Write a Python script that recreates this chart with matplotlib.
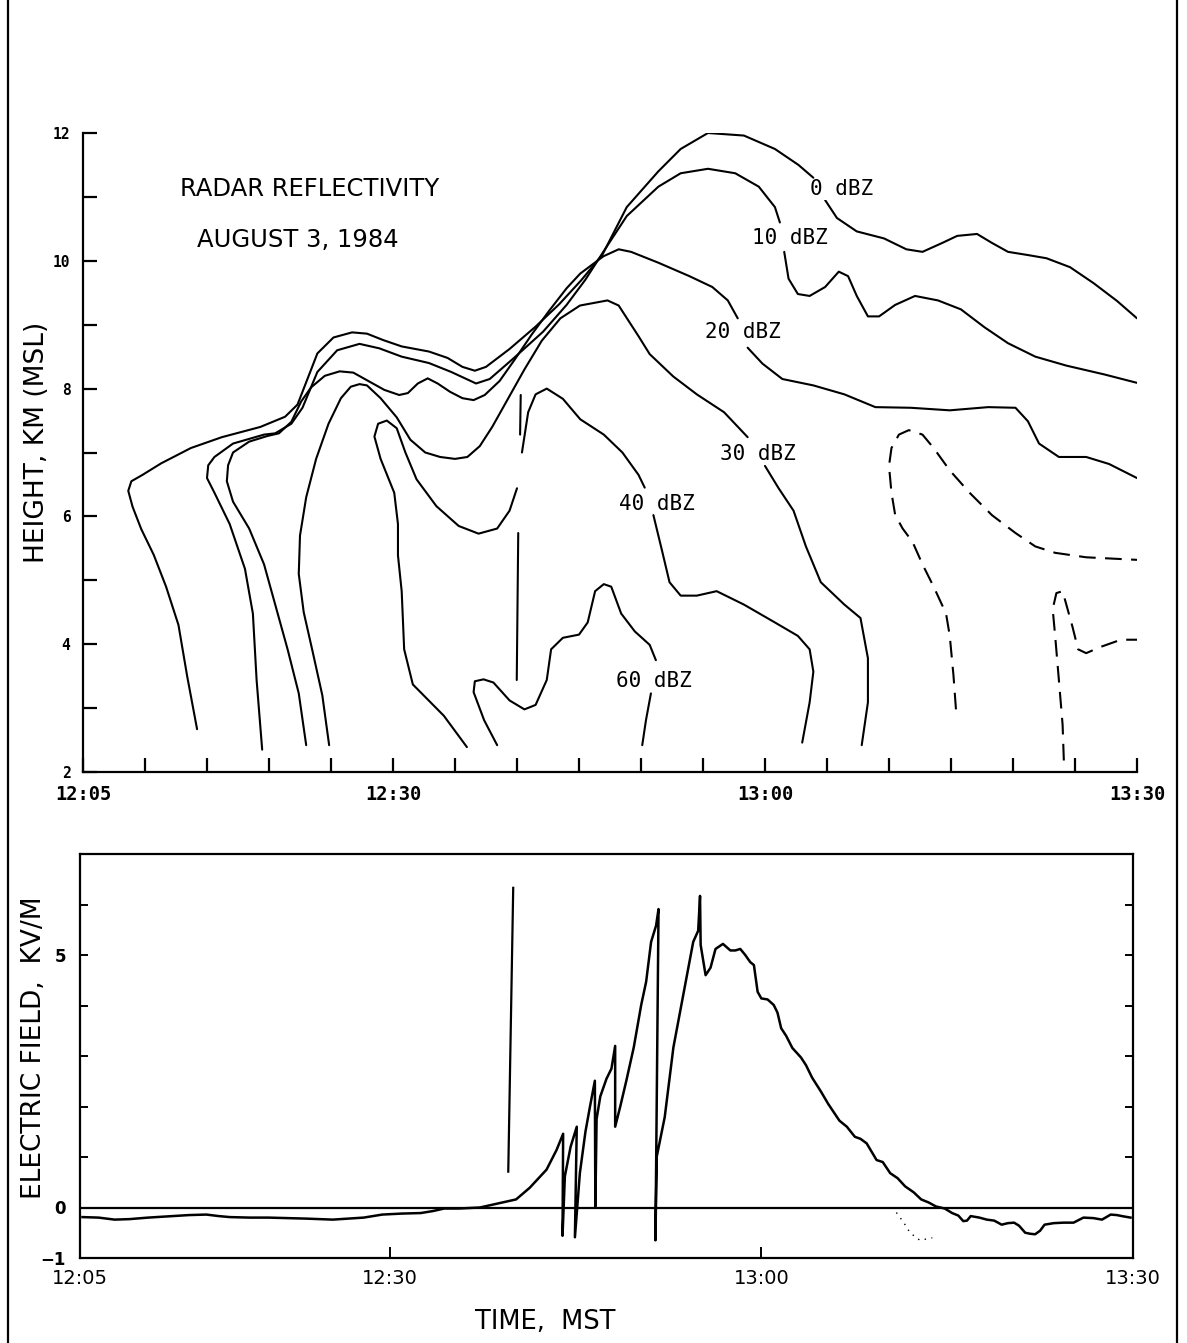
import numpy as np
import matplotlib
matplotlib.use("Agg")
import matplotlib.pyplot as plt
from matplotlib.lines import Line2D

nan = np.nan
W, H = 1187, 1343

# ---------------- data (time in minutes after 12:00, height km MSL) -------------
tick_minutes = [5, 30, 60, 90]
tick_labels = ["12:05", "12:30", "13:00", "13:30"]

# 0 dBZ contour
t_0 = [14.2, 13.4, 12.7, 11.7, 10.7, 9.7, 9.0, 8.65, 8.9, 9.8, 11.3, 13.7, 16.2, 19.3, 21.3, 22.3,
       23.0, 23.9, 25.2, 26.7, 27.9, 29.2, 30.7, 32.9, 34.4, 35.6, 36.6, 37.5, 39.4, 41.5, 43.4,
       45.2, 46.9, 48.85, 51.4, 53.2, 55.4, 58.3, 60.8, 62.7, 63.9, nan, 64.85, 65.8, 67.4, 69.6,
       71.4, 72.7, 74.3, 75.5, 77.1, 78.3, 79.6, 81.2, 82.7, 84.6, 86.5, 88.4, 90.0]
h_0 = [2.67, 3.5, 4.3, 4.9, 5.4, 5.8, 6.15, 6.4, 6.55, 6.65, 6.83, 7.07, 7.24, 7.4, 7.56, 7.75,
       8.1, 8.55, 8.8, 8.88, 8.86, 8.76, 8.66, 8.58, 8.48, 8.34, 8.28, 8.34, 8.62, 8.97, 9.32,
       9.7, 10.1, 10.84, 11.4, 11.75, 12.0, 11.96, 11.75, 11.5, 11.3, nan, 10.95, 10.67, 10.46, 10.35,
       10.18, 10.14, 10.28, 10.39, 10.42, 10.28, 10.14, 10.09, 10.04, 9.9, 9.65, 9.37, 9.1]

# 10 dBZ contour
t_10 = [19.45, 19.0, 18.7, 18.06, 16.83, 15.6, 15.0, 15.1, 15.6, 17.1, 19.6, 20.5, 21.8, 22.7, 23.9,
        25.5, 27.3, 28.9, 30.7, 32.9, 34.7, 36.7, 37.8, 39.7, 42.1, 44.0, 45.5, 46.96, 48.85, 51.4,
        53.2, 55.4, 57.6, 59.5, 60.8, 61.2, nan, 61.55, 61.9, 62.65, 63.6, 64.85, 65.95, 66.7, 67.4,
        68.3, 69.2, 70.5, 72.1, 73.95, 75.8, 77.7, 79.6, 81.8, 84.3, 87.4, 90.0]
h_10 = [2.35, 3.44, 4.48, 5.18, 5.88, 6.37, 6.6, 6.8, 6.93, 7.14, 7.28, 7.3, 7.45, 7.7, 8.26,
        8.6, 8.7, 8.63, 8.5, 8.4, 8.26, 8.08, 8.15, 8.47, 8.89, 9.31, 9.7, 10.14, 10.7, 11.16,
        11.37, 11.44, 11.37, 11.16, 10.84, 10.6, nan, 10.14, 9.72, 9.48, 9.45, 9.59, 9.83, 9.76, 9.45,
        9.13, 9.13, 9.31, 9.45, 9.38, 9.24, 8.96, 8.71, 8.5, 8.36, 8.22, 8.09]

# 20 dBZ contour
t_20 = [23.0, 22.4, 21.5, 20.5, 19.6, 18.4, 17.1, 16.6, 16.7, 17.1, 18.4, 19.9, 20.8, 21.8, 22.6,
        23.4, 24.5, 25.7, 26.8, 28.0, 29.3, 30.5, 31.2, 32.0, 32.8, 33.6, 34.6, 35.6, 36.5, 37.4,
        38.6, 39.8, 41.2, 42.6, 44.0, 45.1, 46.96, 48.2, 49.2, 51.4, 53.9, 55.75, 57.0, 57.8, nan,
        58.6, 59.8, 61.4, 63.9, 66.4, 68.9, 71.75, 74.9, 78.0, 80.2, 81.2, 82.1, 83.7, 85.9, 87.75, 90.0]
h_20 = [2.42, 3.23, 3.92, 4.62, 5.25, 5.81, 6.23, 6.55, 6.8, 7.0, 7.17, 7.26, 7.3, 7.48, 7.8,
        8.02, 8.2, 8.27, 8.25, 8.12, 7.98, 7.9, 7.93, 8.08, 8.16, 8.08, 7.95, 7.85, 7.82, 7.9,
        8.12, 8.45, 8.85, 9.22, 9.57, 9.8, 10.07, 10.18, 10.14, 9.97, 9.76, 9.59, 9.38, 9.1, nan,
        8.64, 8.39, 8.15, 8.05, 7.91, 7.71, 7.7, 7.66, 7.71, 7.7, 7.49, 7.14, 6.93, 6.93, 6.82, 6.6]

# 30 dBZ contour
t_30 = [24.85, 24.3, 23.5, 22.8, 22.4, 22.5, 23.0, 23.8, 24.8, 25.8, 26.6, 27.3, 27.9, 29.0, 30.3, 31.4,
        32.6, 33.8, 35.0, 36.0, 37.0, 38.0, 39.3, 40.6, 42.0, 43.5, 45.08, 47.3, 48.2, 49.8, 50.7,
        52.6, 54.5, 56.7, 58.6, nan, 60.0, 61.1, 62.3, 63.3, 64.5, 66.4, 67.7, 68.3, 68.3, 67.8]
h_30 = [2.42, 3.2, 3.9, 4.5, 5.1, 5.7, 6.3, 6.9, 7.45, 7.85, 8.03, 8.07, 8.05, 7.85, 7.55, 7.2,
        7.0, 6.93, 6.9, 6.93, 7.1, 7.4, 7.85, 8.3, 8.75, 9.1, 9.3, 9.38, 9.3, 8.82, 8.54,
        8.19, 7.91, 7.63, 7.24, nan, 6.79, 6.44, 6.09, 5.53, 4.97, 4.62, 4.41, 3.78, 3.09, 2.42]

# 40 dBZ contour
t_40 = [35.96, 34.1, 31.6, 30.9, 30.7, 30.4, 30.4, 30.1, 29.0, 28.5, 28.8, 29.5, 30.3, 31.0, 31.9,
        33.5, 35.3, 36.9, 38.4, 39.4, 40.0, nan, 40.4, 40.9, 41.5, 42.4, 43.7, 45.1, 47.0, 48.5,
        49.8, 50.3, nan, 51.0, 51.7, 52.3, 53.2, 54.5, 56.1, 58.3, 60.8, 62.65, 63.6, 63.9, 63.6, 63.0]
h_40 = [2.39, 2.88, 3.37, 3.92, 4.83, 5.39, 5.88, 6.37, 6.9, 7.25, 7.45, 7.5, 7.38, 7.0, 6.58,
        6.16, 5.85, 5.73, 5.81, 6.09, 6.44, nan, 7.0, 7.63, 7.91, 8.0, 7.84, 7.52, 7.28, 7.0,
        6.65, 6.45, nan, 6.02, 5.46, 4.97, 4.76, 4.76, 4.83, 4.62, 4.34, 4.13, 3.92, 3.57, 3.09, 2.46]

# 60 dBZ contour
t_60 = [38.4, 37.35, 36.5, 36.6, 37.3, 38.1, 39.4, 40.6, 41.5, 42.4, 42.75, 43.7, 45.0, 45.7, 46.3,
        47.0, 47.6, 48.4, 49.5, 50.7, 51.2, nan, 50.8, 50.4, 50.1]
h_60 = [2.42, 2.81, 3.25, 3.42, 3.45, 3.4, 3.12, 2.98, 3.05, 3.44, 3.92, 4.1, 4.15, 4.34, 4.83,
        4.94, 4.9, 4.48, 4.2, 3.99, 3.75, nan, 3.23, 2.81, 2.42]

# unlabeled dashed contours
t_dash_a = [75.4, 75.2, 74.9, 74.6, 73.6, 72.7, 71.9, 71.1, 70.5, 70.2, 70.0, 70.2, 70.8, 71.6, 72.7,
            73.6, 74.9, 76.5, 78.3, 80.2, 81.8, 83.4, 85.9, 90.0]
h_dash_a = [2.98, 3.51, 4.13, 4.48, 4.9, 5.25, 5.6, 5.81, 6.02, 6.37, 6.79, 7.07, 7.28, 7.35, 7.28,
            7.07, 6.72, 6.37, 6.02, 5.74, 5.53, 5.43, 5.36, 5.32]
t_dash_b = [84.1, 84.0, 83.7, 83.4, 83.2, 83.5, 84.0, 84.3, 84.8, 85.25, 85.9, 87.1, 88.7, 90.0]
h_dash_b = [2.18, 2.74, 3.44, 4.13, 4.55, 4.8, 4.83, 4.62, 4.27, 3.92, 3.86, 3.96, 4.07, 4.07]

# vertical marker segments (radar panel)
t_mark = [40.3, 40.25, nan, 40.1, 39.98]
h_mark = [7.9, 7.28, nan, 5.74, 3.44]

# contour labels
lab_text = ["0 dBZ", "10 dBZ", "20 dBZ", "30 dBZ", "40 dBZ", "60 dBZ"]
lab_t = [66.2, 62.0, 58.2, 59.4, 51.3, 51.0]
lab_h = [11.12, 10.35, 8.88, 6.98, 6.2, 3.43]

# electric field trace (kV/m)
t_e = [5.2, 6.5, 7.8, 9.0, 10.5, 12.4, 13.8, 15.2, 16.2, 17.1, 18.7, 20.2, 21.7, 23.25, 25.4, 26.6,
       27.9, 29.4, 31.0, 32.5, 33.5, 34.4, 35.6, 37.28, 38.9, 40.2, 41.3, 42.66, 43.47, 44.0, 43.95,
       44.14, 44.6, 45.1, 44.95, 45.35, 45.8, 46.16, 46.56, 46.6, 46.7, 47.0, 47.5, 47.9, 48.2, 48.2,
       48.6, 49.1, 49.7, 50.3, 50.7, 51.1, 51.5, 51.7, 51.45, 51.55, 52.2, 52.9, 53.7, 54.5, 54.9,
       55.05, 55.1, 55.5, 55.9, 56.3, 56.9, 57.5, 57.9, 58.3, 58.7, 59.1, 59.4, 59.7, 60.0, 60.5,
       61.0, 61.3, 61.6, 62.0, 62.5, 63.2, 63.6, 64.1, 64.8, 65.4, 66.3, 66.9, 67.55, 68.0, 68.5,
       69.3, 69.8, 70.4, 71.0, 71.6, 72.3, 72.9, 73.5, 74.1, 74.8, 75.4, 75.9, 76.3, 76.6, 76.9,
       77.6, 78.2, 78.8, 79.4, 79.9, 80.4, 80.8, 81.3, 81.7, 82.1, 82.5, 82.86, 83.6, 84.4, 85.2,
       86.0, 86.8, 87.5, 88.2, 88.7, 89.1, 89.8]
e_val = [-0.19, -0.2, -0.24, -0.23, -0.2, -0.17, -0.15, -0.14, -0.17, -0.19, -0.2, -0.2, -0.21, -0.22,
         -0.24, -0.22, -0.2, -0.14, -0.12, -0.11, -0.07, -0.02, -0.02, 0.0, 0.09, 0.16, 0.39, 0.75,
         1.14, 1.46, -0.56, 0.62, 1.2, 1.6, -0.59, 0.68, 1.5, 1.99, 2.51, 0.02, 1.75, 2.2, 2.55, 2.75,
         3.2, 1.6, 1.99, 2.51, 3.17, 4.01, 4.47, 5.26, 5.58, 5.91, -0.65, 1.0, 1.79, 3.17, 4.21, 5.26,
         5.48, 6.17, 5.2, 4.6, 4.75, 5.12, 5.22, 5.09, 5.09, 5.12, 5.0, 4.86, 4.8, 4.27, 4.14, 4.12,
         4.01, 3.86, 3.55, 3.4, 3.16, 2.97, 2.82, 2.57, 2.3, 2.05, 1.72, 1.6, 1.4, 1.36, 1.27,
         0.94, 0.9, 0.68, 0.58, 0.42, 0.3, 0.16, 0.1, 0.02, -0.02, -0.11, -0.16, -0.27, -0.26, -0.17,
         -0.2, -0.24, -0.26, -0.34, -0.31, -0.3, -0.36, -0.5, -0.52, -0.53, -0.46, -0.34, -0.31, -0.3, -0.3,
         -0.2, -0.21, -0.24, -0.14, -0.15, -0.17, -0.2]

# dotted branch below zero near 13:10
t_dot = [70.9, 71.5, 72.0, 72.8, 73.8]
e_dot = [-0.1, -0.3, -0.5, -0.65, -0.6]

# vertical marker in field panel
t_emark = [39.97, 39.57]
e_emark = [6.33, 0.71]

# ---------------- figure -------------------------------------------------------
fig = plt.figure(figsize=(W / 100, H / 100), dpi=100)

def fx(x):
    return x / W

def fy(y):
    return 1 - y / H

mono = "DejaVu Sans Mono"
sans = "DejaVu Sans"
LW = 1.5

# ---- top panel: radar reflectivity
ax1 = fig.add_axes([fx(83), fy(772), 1054 / W, 639 / H])
ax1.set_xlim(5, 90)
ax1.set_ylim(2, 12)
for s in ["top", "right"]:
    ax1.spines[s].set_visible(False)
for s in ["left", "bottom"]:
    ax1.spines[s].set_linewidth(1.6)

for t, h in [(t_0, h_0), (t_10, h_10), (t_20, h_20), (t_30, h_30), (t_40, h_40), (t_60, h_60),
             (t_mark, h_mark)]:
    ax1.plot(t, h, color="black", lw=LW, solid_capstyle="round")
for t, h in [(t_dash_a, h_dash_a), (t_dash_b, h_dash_b)]:
    ax1.plot(t, h, color="black", lw=LW, dashes=(8, 4.5))

for txt, t, h in zip(lab_text, lab_t, lab_h):
    ax1.text(t, h, txt, family=mono, fontsize=15, ha="center", va="center",
             bbox=dict(facecolor="white", edgecolor="none", pad=0.5))

ax1.set_xticks(tick_minutes)
ax1.set_xticklabels(tick_labels, family=mono, fontsize=13.5, fontweight="bold")
ax1.set_xticks(np.arange(5, 91, 5), minor=True)
ax1.set_yticks(np.arange(2, 13, 2))
ax1.set_yticklabels([str(v) for v in range(2, 13, 2)], family=mono, fontsize=10.5, fontweight="bold")
ax1.set_yticks(np.arange(3, 12, 2), minor=True)
ax1.tick_params(axis="x", which="both", direction="in", length=10, width=1.6, pad=9)
ax1.tick_params(axis="y", which="both", direction="in", length=10, width=1.6, pad=9)

fig.text(fx(37), fy(442), "HEIGHT, KM (MSL)", family=sans, fontsize=19, rotation=90,
         ha="center", va="center")
fig.text(fx(180), fy(189), "RADAR REFLECTIVITY", family=sans, fontsize=17.5, ha="left", va="center")
fig.text(fx(197), fy(240), "AUGUST 3, 1984", family=sans, fontsize=17.5, ha="left", va="center")

# ---- bottom panel: electric field
ax2 = fig.add_axes([fx(80), fy(1258), 1053 / W, 404 / H])
ax2.set_xlim(5, 90)
ax2.set_ylim(-1, 7)
for s in ax2.spines.values():
    s.set_linewidth(1.6)
ax2.axhline(0, color="black", lw=1.6)
ax2.plot(t_e, e_val, color="black", lw=1.8)
ax2.plot(t_emark, e_emark, color="black", lw=1.6)
ax2.plot(t_dot, e_dot, color="black", lw=1.0, ls=(0, (1, 4)))

ax2.set_xticks(tick_minutes)
ax2.set_xticklabels(tick_labels, family=sans, fontsize=14)
ax2.set_yticks([-1, 0, 5])
ax2.set_yticklabels(["\u22121", "0", "5"], family=sans, fontsize=12, fontweight="bold")
ax2.set_yticks([1, 2, 3, 4, 6], minor=True)
ax2.tick_params(axis="y", which="both", direction="in", length=6, width=1.4, left=True, right=True, pad=10)
ax2.tick_params(axis="x", which="both", direction="in", length=8, width=1.4, pad=8)

fig.text(fx(34), fy(1048), "ELECTRIC FIELD,  KV/M", family=sans, fontsize=19, rotation=90,
         ha="center", va="center")
fig.text(fx(545), fy(1322), "TIME,  MST", family=sans, fontsize=18.5, ha="center", va="center")

# outer frame lines of the scanned page
fig.add_artist(Line2D([fx(8), fx(8)], [0, 1], color="black", lw=1.6))
fig.add_artist(Line2D([fx(1177), fx(1177)], [0, 1], color="black", lw=1.6))

fig.savefig("out.png", dpi=100, facecolor="white")
